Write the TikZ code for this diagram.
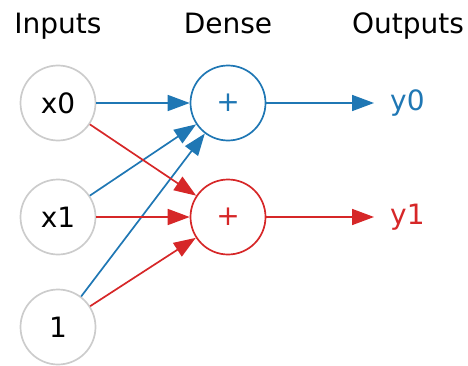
\documentclass[tikz,border=0pt]{standalone}
\usepackage{fontspec}
\setmainfont{DejaVu Sans}
\usetikzlibrary{arrows.meta}
\definecolor{tblue}{HTML}{1F77B4}
\definecolor{tred}{HTML}{D62728}
\definecolor{cgray}{HTML}{CCCCCC}
\begin{document}
\begin{tikzpicture}[x=1pt,y=1pt,
  inp/.style={circle,draw=cgray,line width=1.7pt,minimum size=75pt,inner sep=0pt,font=\fontsize{28}{32}\selectfont},
  dns/.style={circle,line width=1.7pt,minimum size=75pt,inner sep=0pt,font=\fontsize{28}{32}\selectfont},
  ttl/.style={font=\fontsize{28}{32}\selectfont,anchor=base},
  outl/.style={font=\fontsize{28}{32}\selectfont,anchor=west,inner sep=0pt},
  conn/.style={line width=1.7pt,-{Triangle[length=22pt,width=16pt]}}]
\useasboundingbox (0,0) rectangle (468,365);
\node[ttl] (ti) at (58,331) {Inputs};
\node[ttl] (td) at (228,331) {Dense};
\node[ttl] (to) at (408,331) {Outputs};
\node[inp] (x0) at (58,262) {x0};
\node[inp] (x1) at (58,148) {x1};
\node[inp] (b) at (58,38) {1};
\node[dns,draw=tblue,text=tblue] (d0) at (228,262) {+};
\node[dns,draw=tred,text=tred] (d1) at (228,148) {+};
\node[outl,text=tblue] (y0) at (390,262) {y0};
\node[outl,text=tred] (y1) at (390,148) {y1};
\coordinate (e0) at (374,262);
\coordinate (e1) at (374,148);
\draw[conn,tblue] (x0) -- (d0);
\draw[conn,tblue] (x1) -- (d0);
\draw[conn,tblue] (b) -- (d0);
\draw[conn,tred] (x0) -- (d1);
\draw[conn,tred] (x1) -- (d1);
\draw[conn,tred] (b) -- (d1);
\draw[conn,tblue] (d0) -- (e0);
\draw[conn,tred] (d1) -- (e1);
\end{tikzpicture}
\end{document}
